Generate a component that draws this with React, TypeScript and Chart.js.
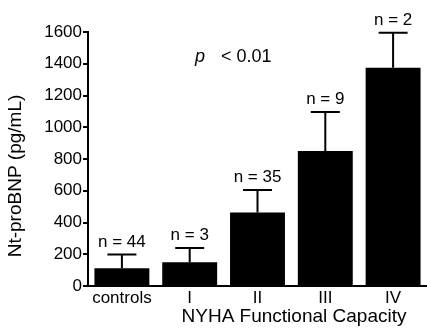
import React, { useEffect, useRef } from "react";
import { Chart, registerables } from "chart.js";

Chart.register(...registerables);

const categories = ["controls", "I", "II", "III", "IV"];
const means = [112, 150, 463, 850, 1375];
const errors = [86, 90, 141, 246, 221];
const nLabels = ["n = 44", "n = 3", "n = 35", "n = 9", "n = 2"];
const yTicks = [0, 200, 400, 600, 800, 1000, 1200, 1400, 1600];
const yTitle = "Nt-proBNP (pg/mL)";
const xTitle = "NYHA Functional Capacity";
const pText = "< 0.01";

const FONT = "'Liberation Sans', Arial, Helvetica, sans-serif";

const overlay = {
  id: "overlay",
  afterDatasetsDraw(chart: any) {
    const ctx = chart.ctx;
    const x = chart.scales.x;
    const y = chart.scales.y;
    ctx.save();
    ctx.strokeStyle = "#000";
    ctx.fillStyle = "#000";
    ctx.lineWidth = 2;
    means.forEach((m, i) => {
      const cx = x.getPixelForValue(i);
      const yb = y.getPixelForValue(m);
      const yt = y.getPixelForValue(m + errors[i]);
      ctx.beginPath();
      ctx.moveTo(cx, yb);
      ctx.lineTo(cx, yt);
      ctx.moveTo(cx - 14.5, yt);
      ctx.lineTo(cx + 14.5, yt);
      ctx.stroke();
      ctx.font = `17px ${FONT}`;
      ctx.textAlign = "center";
      ctx.textBaseline = "alphabetic";
      ctx.fillText(nLabels[i], cx, yt - 8);
    });
    // p value
    ctx.textAlign = "left";
    ctx.font = `italic 18px ${FONT}`;
    ctx.fillText("p", 195, 62);
    ctx.font = `18px ${FONT}`;
    ctx.fillText(pText, 221, 62);
    // x title
    ctx.textAlign = "center";
    ctx.font = `19px ${FONT}`;
    ctx.fillText(xTitle, 294, 322);
    // y title
    ctx.translate(21, 176);
    ctx.rotate(-Math.PI / 2);
    ctx.font = `19px ${FONT}`;
    ctx.textBaseline = "alphabetic";
    ctx.fillText(yTitle, 0, 0);
    ctx.restore();
  },
};

export default function App() {
  const ref = useRef<HTMLCanvasElement>(null);
  useEffect(() => {
    const chart = new Chart(ref.current as HTMLCanvasElement, {
      type: "bar",
      data: {
        labels: categories,
        datasets: [
          {
            data: means,
            backgroundColor: "#000",
            borderWidth: 0,
            barPercentage: 0.81,
            categoryPercentage: 1,
          },
        ],
      },
      options: {
        animation: false,
        responsive: false,
        layout: { padding: { top: 32, right: -2, left: 0, bottom: 0 } },
        plugins: { legend: { display: false }, tooltip: { enabled: false } },
        scales: {
          x: {
            grid: { display: true, drawOnChartArea: false, drawTicks: false },
            border: { display: true, color: "#000", width: 2 },
            ticks: {
              color: "#000",
              padding: 2,
              font: { family: FONT, size: 17 },
              maxRotation: 0,
            },
            afterFit: (s: any) => {
              s.height = 46;
            },
          },
          y: {
            min: 0,
            max: 1600,
            afterBuildTicks: (s: any) => {
              s.ticks = yTicks.map((v) => ({ value: v }));
            },
            grid: {
              display: true,
              drawOnChartArea: false,
              drawTicks: true,
              tickLength: 5,
              color: "#000",
              lineWidth: 2,
            },
            border: { display: true, color: "#000", width: 2 },
            ticks: {
              color: "#000",
              padding: 1,
              font: { family: FONT, size: 17 },
              callback: (v: any) => String(v),
            },
            afterFit: (s: any) => {
              s.width = 88;
            },
          },
        },
      },
      plugins: [overlay],
    });
    return () => chart.destroy();
  }, []);
  return (
    <div style={{ position: "absolute", left: 0, top: 0, width: 427, height: 332, background: "#fff" }}>
      <canvas ref={ref} width={427} height={332} style={{ width: 427, height: 332 }} />
    </div>
  );
}
